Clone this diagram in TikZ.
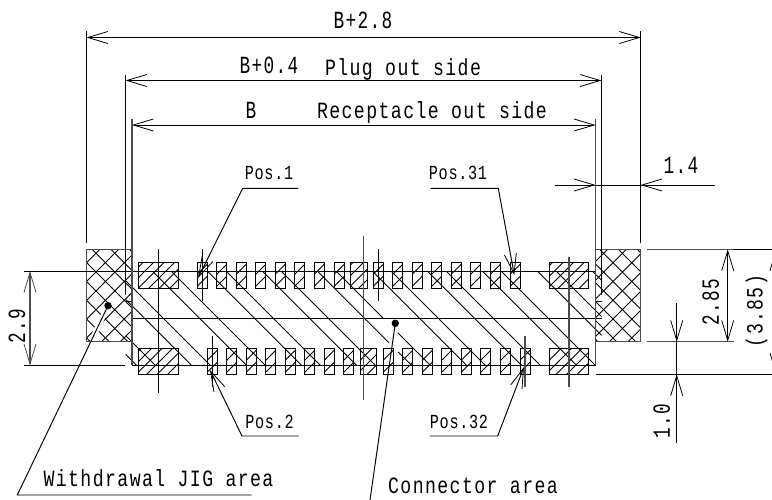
\documentclass[tikz,border=0pt]{standalone}
\usepackage{fontspec}
\usetikzlibrary{arrows.meta,calc}
\newfontfamily\cadfa[FakeStretch=0.78,LetterSpace=6]{Liberation Mono}
\newfontfamily\cadfb[FakeStretch=0.76,LetterSpace=3.5]{Liberation Mono}
\newfontfamily\cadfc[FakeStretch=0.72,LetterSpace=5.5]{Liberation Mono}
\newcommand{\cadwords}{\fontsize{17.5}{18}\cadfa}
\newcommand{\cadpos}{\fontsize{15}{16}\cadfb}
\newcommand{\caddim}{\fontsize{18.5}{19}\cadfc}
\newcommand{\smallpad}[2]{%
  \draw (#1,#2) rectangle ++(10,26);
  \begin{scope}
    \clip (#1,#2) rectangle ++(10,26);
    \draw[hatchline] (#1,#2+12) -- ++(10,-10);
    \draw[hatchline] (#1,#2+24) -- ++(10,-10);
  \end{scope}
}
\tikzset{
  barb/.tip={Straight Barb[length=15pt,width=9pt,line width=0.6pt]},
  wordlabel/.style={font=\cadwords,inner sep=0pt},
  poslabel/.style={font=\cadpos,inner sep=0pt},
  dimlabel/.style={font=\caddim,inner sep=0pt},
  dimline/.style={barb-barb},
  oneway/.style={-barb},
  hatchline/.style={line width=0.65pt},
  greyline/.style={draw=black!70,line width=0.9pt},
}
\begin{document}
\begin{tikzpicture}[x=0.75pt,y=-0.75pt,line width=0.72pt]
\useasboundingbox (0,0) rectangle (772,500);
\clip (0,0) rectangle (772,500);
% named points of the leaders
\coordinate (jigdot) at (108,305.7);
\coordinate (condot) at (395.3,323.3);
\coordinate (jigfoot) at (17.3,495);
\coordinate (confoot) at (370,500);
% jig boxes
\begin{scope}
  \clip (86.5,249.3) rectangle (132,341.8) (595.5,249.3) rectangle (640.7,341.8);
  \foreach \k in {-20,...,55} {
    \pgfmathsetmacro{\xa}{96+18.8*\k}
    \draw[hatchline] (\xa,253.3) ++(-100,-100) -- ++(200,200);
    \draw[hatchline] (\xa,253.3) ++(-100,100) -- ++(200,-200);
  }
\end{scope}
\draw[white,line width=4pt] (jigdot) -- ($(jigdot)!0.15!(jigfoot)$);
\draw[greyline] (86.5,249.3) rectangle (132,341.8);
\draw[greyline] (595.5,249.3) rectangle (640.7,341.8);
% large pads
\foreach \r/\s/\t/\u in {138.3/262.3/178/288.3,549.3/262.3/588.3/288.3,138.3/348.3/178/374.3,549.3/348.3/588.3/374.3,350.7/262.3/367.3/288.3,360.3/348.3/376.7/374.3} {
  \draw (\r,\s) rectangle (\t,\u);
  \begin{scope}
    \clip (\r,\s) rectangle (\t,\u);
    \foreach \k in {-1,...,57} {
      \pgfmathsetmacro{\cc}{405.6+10.5*\k}
      \draw[hatchline] (\cc-200,200) -- (\cc-400,400);
    }
  \end{scope}
}
% small pads
\foreach \p in {197.3,216.8,236.3,255.8,275.3,294.8,314.3,334.3,373.3,392.8,412.3,431.8,451.3,470.8,490.5,510.3} {\smallpad{\p}{262.3}}
\foreach \p in {207.3,226.8,246.3,265.8,285.3,304.8,324.3,343.8,383.3,402.8,422.3,441.8,461.3,480.8,500.6,520} {\smallpad{\p}{348.3}}
% connector area diagonals: x - y = c, in pairs
\begin{scope}
  \clip (125.5,271) rectangle (601.5,365.3);
  \foreach \c in {-228.7,-210,-173.7,-155,-118.7,-100,-63.7,-45,-8.7,10,101.3,120,156.3,175,211.3,230,266.3,285,321.3} {
    \draw[hatchline] (\c+271,271) -- (\c+365.3,365.3);
  }
  \draw[hatchline] (46.3+271,271) -- (46.3+342.7,342.7);
  \draw[hatchline] (46.3+352,352) -- (46.3+365.3,365.3);
  \draw[hatchline] (65+271,271) -- (65+318.7,318.7);
  \draw[hatchline] (65+333,333) -- (65+365.3,365.3);
\end{scope}
% outlines
\draw (24,271) -- (595.5,271);
\draw (24,365.3) -- (125,365.3);
\draw (132,365.3) -- (595.5,365.3);
\draw (132,318.3) -- (601.5,318.3);
\draw (125.5,301) -- (132,301);
\draw (595.5,301) -- (601.5,301);
\draw (86.5,31) -- (86.5,242.5);
\draw (640.7,31) -- (640.7,242.5);
\draw (125.5,75) -- (125.5,295);
\draw (601.5,75) -- (601.5,295);
\draw[greyline] (132,119) -- (132,365.3);
\draw[greyline] (595.5,119) -- (595.5,365.3);
% centre lines
\draw (158.3,249.3) -- (158.3,393.3);
\draw[greyline] (569,256.7) -- (569,387.3);
\draw[greyline] (363.7,236) -- (363.7,400);
\draw (202,249.3) -- (202,300.7);
\draw (212,336) -- (212,386.7);
\draw (378,249.3) -- (378,300.7);
\draw[greyline] (525,336) -- (525,387);
% top dimensions
\draw[dimline] (86.5,37.5) -- (640.7,37.5);
\draw[dimline] (125.5,80.5) -- (601.5,80.5);
\draw[dimline] (132,125) -- (595.5,125);
\node[dimlabel] (tbpluseight) at (363,20) {B+2.8};
\node[dimlabel] (tbplusfour) at (269,65) {B+0.4};
\node[wordlabel] (tplug) at (403,69) {Plug out side};
\node[dimlabel] (tb) at (251,110) {B};
\node[wordlabel] (trecep) at (432,112) {Receptacle out side};
% 1.4
\draw (555,185) -- (715,185);
\draw[oneway] (575,185) -- (595.5,185);
\draw[oneway] (660,185) -- (640.7,185);
\node[dimlabel] (tonefour) at (681,165) {1.4};
% right extensions
\draw (647.3,249.3) -- (772,249.3);
\draw[greyline] (647.3,249.3) -- (734,249.3);
\draw[greyline] (647.3,341.8) -- (734,341.8);
\draw (595.5,374.3) -- (772,374.3);
\draw[dimline] (727.7,249.3) -- (727.7,341.8);
\node[dimlabel,rotate=90] (ttwoeightfive) at (710.7,302) {2.85};
\draw (676.7,303) -- (676.7,442.7);
\draw[oneway] (676.7,320) -- (676.7,341.8);
\draw[oneway] (676.7,396) -- (676.7,374.3);
\node[dimlabel,rotate=90] (tonezero) at (661.7,421.5) {1.0};
\draw[dimline] (776,249.3) -- (776,374.3);
\node[wordlabel,rotate=90] (tthreeeightfive) at (756.7,311) {(3.85)};
% 2.9
\draw[dimline,greyline] (30,271) -- (30,365.3);
\node[dimlabel,rotate=90] (ttwonine) at (17,326) {2.9};
% Pos leaders
\coordinate (posa) at (242.7,188.3);
\coordinate (posb) at (242,436);
\coordinate (posc) at (498.3,188.3);
\coordinate (posd) at (497.7,436);
\draw[oneway] (298.3,188.3) -- (posa) -- (198,278);
\draw[oneway] (298.7,436) -- (posb) -- (210,370);
\draw[oneway] (430.7,188.3) -- (posc) -- (514.3,275);
\draw[oneway] (430,436) -- (posd) -- (524,367);
\node[poslabel] (tposa) at (269,173) {Pos.1};
\node[poslabel] (tposb) at (269.5,421.7) {Pos.2};
\node[poslabel] (tposc) at (458,173) {Pos.31};
\node[poslabel] (tposd) at (459,421.7) {Pos.32};
% area leaders
\fill (jigdot) circle (3.7);
\fill (condot) circle (3.7);
\draw (251.7,495) -- (jigfoot) -- (jigdot);
\draw (confoot) -- (condot);
\node[wordlabel] (tjig) at (158.5,478) {Withdrawal JIG area};
\node[wordlabel] (tcon) at (473,486) {Connector area};
\end{tikzpicture}
\end{document}
